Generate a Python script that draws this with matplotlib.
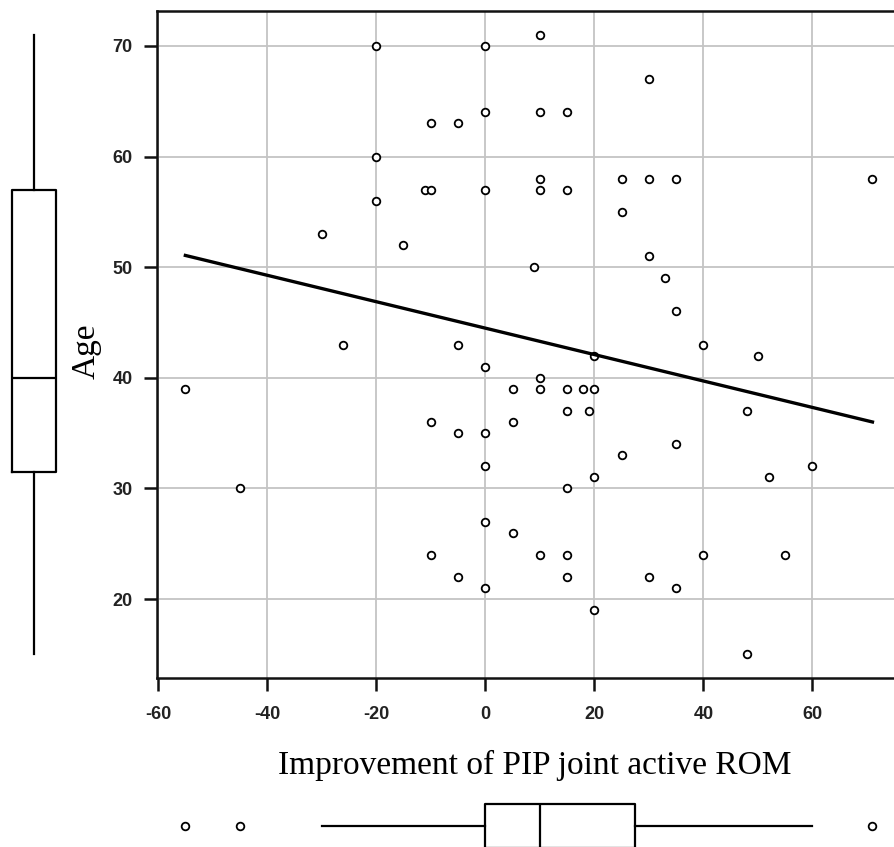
import numpy as np
import matplotlib
matplotlib.use("Agg")
import matplotlib.pyplot as plt

plt.rcParams["axes.unicode_minus"] = False

# ---- data ----
rom = [-20, 0, 0, -10, -5, -20, -11, -10, 0, -20, -30, -15,
       10, 30, 10, 15, 10, 10, 15, 25, 30, 35, 71, 25, 9, 30, 33, 35,
       -26, -5, 0, -55, 5, -10, 5, -5, 0, 0, -45, 0, 5, -10, -5, 0,
       40, 50, 20, 10, 10, 15, 18, 20, 15, 19, 48, 35, 25, 60, 52, 20,
       15, 10, 15, 40, 55, 15, 30, 35, 20, 48]
age = [70, 70, 64, 63, 63, 60, 57, 57, 57, 56, 53, 52,
       71, 67, 64, 64, 58, 57, 57, 58, 58, 58, 58, 55, 50, 51, 49, 46,
       43, 43, 41, 39, 39, 36, 36, 35, 35, 32, 30, 27, 26, 24, 22, 21,
       43, 42, 42, 40, 39, 39, 39, 39, 37, 37, 37, 34, 33, 32, 31, 31,
       30, 24, 24, 24, 24, 22, 22, 21, 19, 15]

# fitted line as drawn (intercept, slope)
fit_intercept = 44.49
fit_slope = -0.1195

# box-plot summaries as drawn in the reference
rom_box = dict(q1=0, med=10, q3=27.5, whislo=-30, whishi=60, fliers=[-55, -45, 71])
age_box = dict(q1=31.5, med=40, q3=57, whislo=15, whishi=71, fliers=[])

x_ticks = [-60, -40, -20, 0, 20, 40, 60]
y_ticks = [20, 30, 40, 50, 60, 70]
x_label = "Improvement of PIP joint active ROM"
y_label = "Age"

W, H = 895, 847
fig = plt.figure(figsize=(W / 100, H / 100), dpi=100)

def fx(px):
    return px / W

def fy(py):
    return 1 - py / H

left_px, right_px, top_px, bot_px = 157, 897, 11, 678
ax = fig.add_axes([fx(left_px), fy(bot_px), fx(right_px - left_px), (bot_px - top_px) / H])

x_arr = np.array(rom, float)
y_arr = np.array(age, float)

ax.set_xlim(-60.2, 75.5)
ax.set_ylim(12.86, 73.16)
ax.set_xticks(x_ticks)
ax.set_yticks(y_ticks)
ax.grid(True, color="#c4c4c4", linewidth=1.3)
ax.set_axisbelow(True)

ax.scatter(x_arr, y_arr, s=30, facecolors="white", edgecolors="black",
           linewidths=1.3, zorder=3)

xx = np.array([x_arr.min(), x_arr.max()])
ax.plot(xx, fit_intercept + fit_slope * xx, color="black", linewidth=2.4, zorder=4)

for s in ["left", "bottom", "top"]:
    ax.spines[s].set_linewidth(1.8)
    ax.spines[s].set_color("#111111")
ax.spines["right"].set_visible(False)

tick_family = ["Liberation Sans", "DejaVu Sans"]
ax.tick_params(axis="both", direction="out", length=9.5, width=1.8, color="#111111")
ax.tick_params(axis="x", pad=11)
ax.tick_params(axis="y", pad=8)
for lab in ax.get_xticklabels() + ax.get_yticklabels():
    lab.set_fontfamily(tick_family)
    lab.set_fontweight("bold")
    lab.set_fontsize(13)
    lab.set_color("#222222")

serif = ["Liberation Serif", "DejaVu Serif"]
fig.text(fx((left_px + 895) / 2 + 9), fy(765), x_label, family=serif, fontsize=24,
         ha="center", va="center")
fig.text(fx(86), fy(351), y_label, family=serif, fontsize=24, rotation=90,
         ha="center", va="center")

# ---- left box plot (Age) ----
axl = fig.add_axes([0, fy(bot_px), fx(68), (bot_px - top_px) / H])
axl.set_ylim(ax.get_ylim())
axl.set_xlim(0, 68)
axl.bxp([dict(age_box)], positions=[34], widths=44, vert=True, showfliers=True,
        showcaps=False,
        boxprops=dict(color="black", linewidth=1.6),
        whiskerprops=dict(color="black", linewidth=1.6),
        medianprops=dict(color="black", linewidth=1.6))
axl.axis("off")

# ---- bottom box plot (ROM) ----
axb = fig.add_axes([fx(left_px), fy(856), fx(right_px - left_px), 60 / H])
axb.set_xlim(ax.get_xlim())
axb.set_ylim(0, 60)
axb.bxp([dict(rom_box)], positions=[30], widths=44, vert=False, showfliers=True,
        showcaps=False,
        boxprops=dict(color="black", linewidth=1.6),
        whiskerprops=dict(color="black", linewidth=1.6),
        medianprops=dict(color="black", linewidth=1.6),
        flierprops=dict(marker="o", markerfacecolor="white", markeredgecolor="black",
                        markersize=5.5, markeredgewidth=1.3))
axb.axis("off")

fig.savefig("out.png", dpi=100)
